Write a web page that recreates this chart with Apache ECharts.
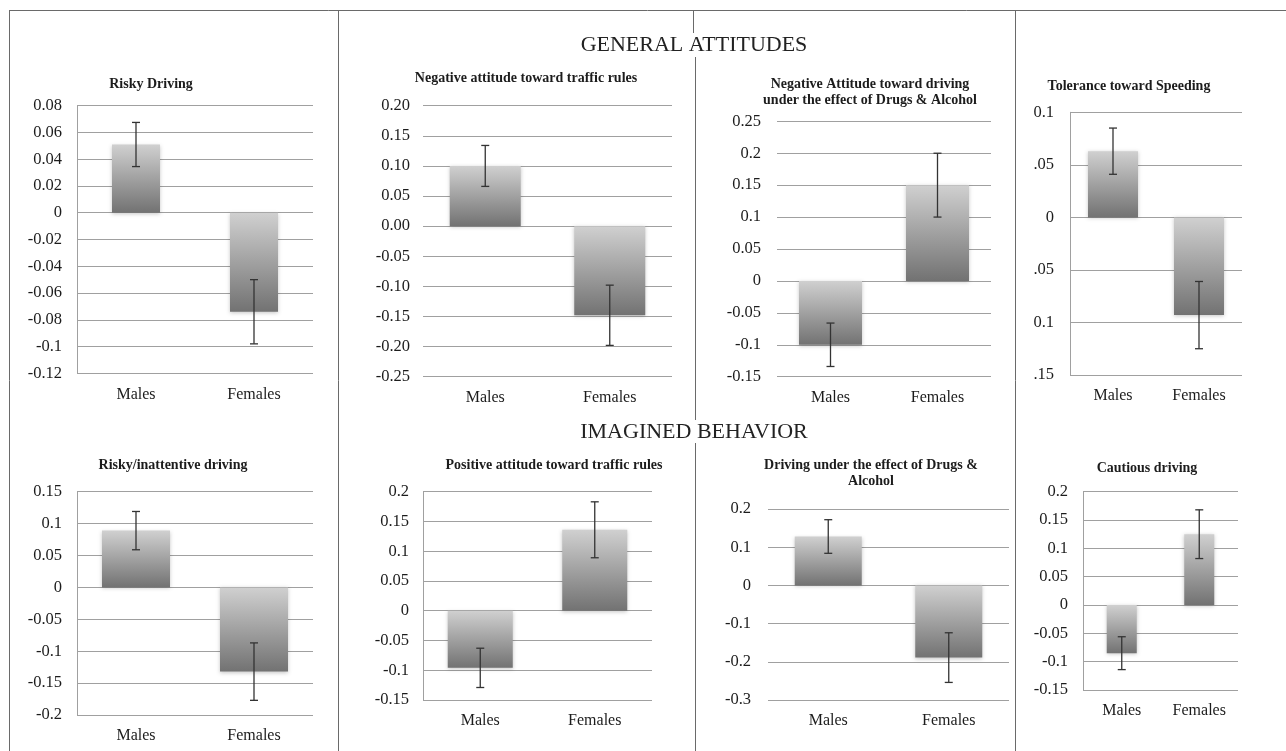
<!DOCTYPE html>
<html>
<head>
<meta charset="utf-8">
<script src="https://cdn.jsdelivr.net/npm/echarts@6/dist/echarts.min.js"></script>
<style>
html,body{margin:0;padding:0;background:#fff;}
#chart{width:1286px;height:751px;}
</style>
</head>
<body>
<div id="chart"></div>
<script>
// ---- data ----
const categories = ['Males', 'Females'];

const titles = [
  'Risky Driving',
  'Negative attitude toward traffic rules',
  'Negative Attitude toward driving\nunder the effect of Drugs & Alcohol',
  'Tolerance toward Speeding',
  'Risky/inattentive driving',
  'Positive attitude toward traffic rules',
  'Driving under the effect of Drugs &\nAlcohol',
  'Cautious driving'
];

const means1 = [0.051, -0.074];   const errs1 = [0.0165, 0.024];
const means2 = [0.100, -0.148];   const errs2 = [0.034, 0.050];
const means3 = [-0.100, 0.150];   const errs3 = [0.034, 0.050];
const means4 = [0.063, -0.093];   const errs4 = [0.022, 0.032];
const means5 = [0.089, -0.132];   const errs5 = [0.030, 0.045];
const means6 = [-0.096, 0.136];   const errs6 = [0.033, 0.047];
const means7 = [0.128, -0.189];   const errs7 = [0.044, 0.065];
const means8 = [-0.085, 0.125];   const errs8 = [0.029, 0.043];

// tick labels, top to bottom
const ticks1 = ['0.08','0.06','0.04','0.02','0','-0.02','-0.04','-0.06','-0.08','-0.1','-0.12'];
const ticks2 = ['0.20','0.15','0.10','0.05','0.00','-0.05','-0.10','-0.15','-0.20','-0.25'];
const ticks3 = ['0.25','0.2','0.15','0.1','0.05','0','-0.05','-0.1','-0.15'];
const ticks4 = ['0.1','.05','0','.05','0.1','.15'];
const ticks5 = ['0.15','0.1','0.05','0','-0.05','-0.1','-0.15','-0.2'];
const ticks6 = ['0.2','0.15','0.1','0.05','0','-0.05','-0.1','-0.15'];
const ticks7 = ['0.2','0.1','0','-0.1','-0.2','-0.3'];
const ticks8 = ['0.2','0.15','0.1','0.05','0','-0.05','-0.1','-0.15'];

const axisRanges = [
  {min: -0.12, max: 0.08, interval: 0.02},
  {min: -0.25, max: 0.20, interval: 0.05},
  {min: -0.15, max: 0.25, interval: 0.05},
  {min: -0.15, max: 0.10, interval: 0.05},
  {min: -0.20, max: 0.15, interval: 0.05},
  {min: -0.15, max: 0.20, interval: 0.05},
  {min: -0.30, max: 0.20, interval: 0.10},
  {min: -0.15, max: 0.20, interval: 0.05}
];

const allMeans = [means1, means2, means3, means4, means5, means6, means7, means8];
const allErrs = [errs1, errs2, errs3, errs4, errs5, errs6, errs7, errs8];
const allTicks = [ticks1, ticks2, ticks3, ticks4, ticks5, ticks6, ticks7, ticks8];

// ---- layout ----
const panels = [
  {grid: {left: 77,   top: 105.7, width: 236, height: 267.6}, barWidth: 48, leftLine: true,  lblMargin: 15, title: [151, 84]},
  {grid: {left: 423,  top: 105.7, width: 249, height: 271},   barWidth: 71, leftLine: false, lblMargin: 13, title: [526, 78]},
  {grid: {left: 777,  top: 121.3, width: 214, height: 255.4}, barWidth: 63, leftLine: false, lblMargin: 16, title: [870, 92]},
  {grid: {left: 1070, top: 112.3, width: 172, height: 262.7}, barWidth: 50, leftLine: true,  lblMargin: 16, title: [1129, 86]},
  {grid: {left: 77,   top: 491.7, width: 236, height: 223.3}, barWidth: 68, leftLine: true,  lblMargin: 15, title: [173, 465]},
  {grid: {left: 423,  top: 491.7, width: 229, height: 208.3}, barWidth: 65, leftLine: true,  lblMargin: 14, title: [554, 465]},
  {grid: {left: 768,  top: 509,   width: 241, height: 191},   barWidth: 67, leftLine: false, lblMargin: 17, title: [871, 473]},
  {grid: {left: 1083, top: 491.7, width: 155, height: 198.3}, barWidth: 30, leftLine: true,  lblMargin: 15, title: [1147, 468]}
];

const SERIF = '"Liberation Serif", "DejaVu Serif", serif';
const GRID_COLOR = '#a0a0a0';
const TEXT_COLOR = '#1c1c1c';

const grids = [], xAxes = [], yAxes = [], series = [], graphics = [];

panels.forEach((p, i) => {
  grids.push(Object.assign({}, p.grid));
  xAxes.push({
    type: 'category', gridIndex: i, data: categories,
    axisLine: {show: false}, axisTick: {show: false},
    axisLabel: {color: TEXT_COLOR, fontFamily: SERIF, fontSize: 16, margin: 13}
  });
  const r = axisRanges[i];
  const tk = allTicks[i];
  yAxes.push({
    type: 'value', gridIndex: i, min: r.min, max: r.max, interval: r.interval,
    axisLine: {show: p.leftLine, lineStyle: {color: GRID_COLOR, width: 1}},
    axisTick: {show: false},
    splitLine: {show: true, lineStyle: {color: GRID_COLOR, width: 1}},
    axisLabel: {
      color: TEXT_COLOR, fontFamily: SERIF, fontSize: 16.5, margin: p.lblMargin,
      formatter: (v) => {
        const idx = Math.round((r.max - v) / r.interval);
        return tk[idx] !== undefined ? tk[idx] : '';
      }
    }
  });
  series.push({
    type: 'bar', xAxisIndex: i, yAxisIndex: i, data: allMeans[i],
    barWidth: p.barWidth,
    itemStyle: {
      color: {type: 'linear', x: 0, y: 0, x2: 0, y2: 1,
        colorStops: [{offset: 0, color: '#d0d0d0'}, {offset: 1, color: '#727272'}]},
      shadowBlur: 4, shadowColor: 'rgba(0,0,0,0.22)', shadowOffsetY: 1
    },
    silent: true, animation: false
  });
  const errData = allMeans[i].map((m, k) => [k, m - allErrs[i][k], m + allErrs[i][k]]);
  series.push({
    type: 'custom', xAxisIndex: i, yAxisIndex: i, data: errData, z: 10,
    silent: true, animation: false,
    renderItem: (params, api) => {
      const x = api.value(0);
      const pHi = api.coord([x, api.value(2)]);
      const pLo = api.coord([x, api.value(1)]);
      const w = 4;
      const st = {stroke: '#333', lineWidth: 1.3};
      return {type: 'group', children: [
        {type: 'line', shape: {x1: pHi[0], y1: pHi[1], x2: pLo[0], y2: pLo[1]}, style: st},
        {type: 'line', shape: {x1: pHi[0] - w, y1: pHi[1], x2: pHi[0] + w, y2: pHi[1]}, style: st},
        {type: 'line', shape: {x1: pLo[0] - w, y1: pLo[1], x2: pLo[0] + w, y2: pLo[1]}, style: st}
      ]};
    }
  });
  graphics.push({
    type: 'text', x: p.title[0], y: p.title[1], silent: true,
    style: {text: titles[i], textAlign: 'center', textVerticalAlign: 'middle',
      font: 'bold 14px ' + SERIF, fill: TEXT_COLOR, lineHeight: 16}
  });
});

// section headings
graphics.push({type: 'text', x: 694, y: 45, silent: true,
  style: {text: 'GENERAL ATTITUDES', textAlign: 'center', textVerticalAlign: 'middle',
    font: '22px ' + SERIF, fill: '#222'}});
graphics.push({type: 'text', x: 694, y: 432, silent: true,
  style: {text: 'IMAGINED BEHAVIOR', textAlign: 'center', textVerticalAlign: 'middle',
    font: '22px ' + SERIF, fill: '#222'}});

// frame lines
const FR = {stroke: '#6a6a6a', lineWidth: 1};
const frameLines = [
  [9, 10.5, 1286, 10.5],
  [9.5, 10, 9.5, 751],
  [338.5, 10, 338.5, 751],
  [1015.5, 10, 1015.5, 751],
  [693.5, 10, 693.5, 33],
  [695.5, 57, 695.5, 420],
  [695.5, 443, 695.5, 751]
];
frameLines.forEach(l => graphics.push({type: 'line', silent: true,
  shape: {x1: l[0], y1: l[1], x2: l[2], y2: l[3]}, style: FR}));

const chart = echarts.init(document.getElementById('chart'), null, {renderer: 'canvas'});
chart.setOption({
  backgroundColor: '#ffffff',
  animation: false,
  grid: grids, xAxis: xAxes, yAxis: yAxes, series: series,
  graphic: graphics
});
</script>
</body>
</html>
